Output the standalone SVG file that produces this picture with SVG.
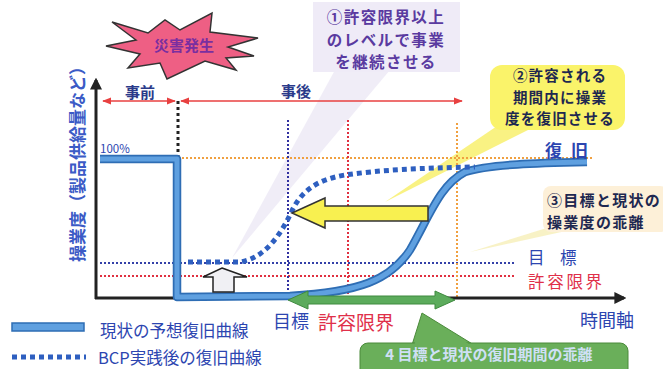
<svg xmlns="http://www.w3.org/2000/svg" width="663" height="369" viewBox="0 0 663 369">
<style>
.jp{font-family:"Noto Sans CJK JP","Noto Sans CJK SC",sans-serif;}
.blue{fill:#2c45b0;}
.red{fill:#e0304a;}
.navy{fill:#1e2850;}
.dotv{fill:none;stroke-width:2;stroke-dasharray:2 2;}
</style>
<defs>
<marker id="ra" viewBox="0 0 10 10" refX="9" refY="5" markerWidth="6" markerHeight="6" orient="auto-start-reverse"><path d="M0,1 L10,5 L0,9 z" fill="#e84040"/></marker>
<marker id="ka" viewBox="0 0 10 10" refX="8" refY="5" markerWidth="4" markerHeight="4" orient="auto"><path d="M0,0 L10,5 L0,10 z" fill="#222"/></marker>
</defs>
<rect width="663" height="369" fill="#ffffff"/>

<!-- callout pointers (background) -->
<g id="callout-wedges">
<polygon points="335,70 390,70 232,258" fill="#e4def0" opacity="0.55"/>
<polygon points="500,124 532,128 385,202" fill="#f7ee5a" opacity="0.75"/>
<polygon points="553,226 575,229 470,252" fill="#f3eaa0" opacity="0.6"/>
</g>

<!-- reference lines -->
<g id="guides">
<line x1="178" y1="158" x2="592" y2="158" class="dotv" stroke="#f0a040"/>
<line x1="100" y1="263" x2="515" y2="263" class="dotv" stroke="#3440a8"/>
<line x1="100" y1="276" x2="515" y2="276" class="dotv" stroke="#e03040"/>
<line x1="288" y1="120" x2="288" y2="297" class="dotv" stroke="#3030a0"/>
<line x1="348" y1="120" x2="348" y2="297" class="dotv" stroke="#e03040"/>
<line x1="457" y1="123" x2="457" y2="298" class="dotv" stroke="#f0a040"/>
<line x1="178" y1="101" x2="178" y2="160" stroke="#222" stroke-width="3" stroke-dasharray="3 3"/>
</g>

<!-- axes -->
<g id="axes">
<line x1="96" y1="299" x2="96" y2="80" stroke="#222" stroke-width="3" marker-end="url(#ka)"/>
<line x1="95" y1="298" x2="624" y2="298" stroke="#222" stroke-width="3" marker-end="url(#ka)"/>
</g>

<!-- connectors / curves -->
<g id="connectors">
<line x1="103" y1="101" x2="175" y2="101" stroke="#e84040" stroke-width="1.5" marker-start="url(#ra)" marker-end="url(#ra)"/>
<line x1="181" y1="101" x2="462" y2="101" stroke="#e84040" stroke-width="1.5" marker-start="url(#ra)" marker-end="url(#ra)"/>
<path d="M100,159 L177,159 L177,297 L290,296 C360,292 390,280 410,250 C430,215 440,185 465,172 C490,164 540,163 587,162" fill="none" stroke="#2e6db4" stroke-width="8.5" stroke-linejoin="round"/>
<path d="M100,159 L177,159 L177,297 L290,296 C360,292 390,280 410,250 C430,215 440,185 465,172 C490,164 540,163 587,162" fill="none" stroke="#5fa0e0" stroke-width="5" stroke-linejoin="round"/>
<path d="M188,262 L240,262 C265,258 280,235 290,215 C300,192 315,180 345,175 C380,170 420,168 475,167" fill="none" stroke="#2e5fc0" stroke-width="5" stroke-dasharray="5 4"/>
<polygon points="292,213 325,198 325,206 428,206 428,221 325,221 325,228" fill="#f8f050" stroke="#333" stroke-width="1.5"/>
<polygon points="222,268 247,277 234,277 234,292 213,292 213,277 203,277" fill="#f0f0f4" stroke="#222" stroke-width="1.5"/>
<polygon points="288,300 308,291 308,296 435,296 435,291 455,300 435,309 435,304 308,304 308,309" fill="#5cab5c" stroke="#3f8a3f" stroke-width="1"/>
</g>

<!-- disaster star -->
<g id="disaster">
<polygon points="112,22 148,33 165,20 180,30 212,13 210,32 258,38 228,47 254,56 226,58 236,70 205,61 167,79 160,63 128,68 140,54 106,46 136,40" fill="#ee5f84" stroke="#333" stroke-width="1.5"/>
<text x="184" y="51" text-anchor="middle" class="jp" font-size="15" font-weight="bold" fill="#7a2ea0">災害発生</text>
</g>

<g id="labels-top">
<text x="140" y="98" text-anchor="middle" class="jp" font-size="15" font-weight="bold" fill="#2a3a8a">事前</text>
<text x="296" y="97" text-anchor="middle" class="jp" font-size="15" font-weight="bold" fill="#2a3a8a">事後</text>
<text x="100" y="153" class="jp blue" font-size="11.5">100%</text>
</g>

<g id="ylabel">
<text transform="translate(84,160) rotate(-90)" text-anchor="middle" class="jp" font-size="17" font-weight="bold" fill="#3b5bc6">操業度（製品供給量など）</text>
</g>

<g id="callout1">
<rect x="313" y="2" width="147" height="70" fill="#efebf7"/>
<text class="jp" font-size="15.5" font-weight="bold" fill="#5a3aa0" text-anchor="middle" letter-spacing="1.4"><tspan x="386" y="23">①許容限界以上</tspan><tspan x="386" y="45.5">のレベルで事業</tspan><tspan x="386" y="68">を継続させる</tspan></text>
</g>

<g id="callout2">
<rect x="490" y="65" width="135" height="65" rx="12" fill="#faf36a"/>
<text class="jp navy" font-size="14.5" font-weight="bold" text-anchor="middle" letter-spacing="1.2"><tspan x="560" y="81">②許容される</tspan><tspan x="560" y="102.5">期間内に操業</tspan><tspan x="560" y="124">度を復旧させる</tspan></text>
</g>

<g id="callout3">
<rect x="543" y="186" width="125" height="46" rx="8" fill="#fdf0d8"/>
<text class="jp navy" font-size="15" font-weight="bold" letter-spacing="1.3"><tspan x="547" y="205.5">③目標と現状の</tspan><tspan x="547" y="227.5">操業度の乖離</tspan></text>
</g>

<g id="labels-right">
<text x="545 571" y="157" class="jp blue" font-size="17" font-weight="bold">復旧</text>
<text x="528 560" y="264" class="jp blue" font-size="16.5">目標</text>
<text x="528" y="288" class="jp red" font-size="16.5" letter-spacing="2.7">許容限界</text>
<text x="580" y="327" class="jp blue" font-size="18">時間軸</text>
</g>

<g id="labels-bottom">
<text x="273" y="328" class="jp blue" font-size="18">目標</text>
<text x="318" y="330" class="jp red" font-size="19">許容限界</text>
</g>

<g id="callout4">
<polygon points="422,313 412,345 474,345" fill="#6aaf5a" stroke="#4a8a3a" stroke-width="1"/>
<rect x="360" y="343" width="268" height="40" rx="8" fill="#6aaf5a" stroke="#4a8a3a" stroke-width="1"/>
<polygon points="423,316 414,346 472,346" fill="#6aaf5a"/>
<text x="489" y="360" text-anchor="middle" class="jp" font-size="15" font-weight="bold" fill="#cfe0f5">4 目標と現状の復旧期間の乖離</text>
</g>

<g id="legend">
<rect x="12" y="323" width="72" height="8" fill="#5fa0e0" stroke="#2e6db4" stroke-width="1.5"/>
<text x="100" y="337" class="jp blue" font-size="16.5">現状の予想復旧曲線</text>
<line x1="12" y1="357" x2="86" y2="357" stroke="#2e5fc0" stroke-width="5" stroke-dasharray="5 4"/>
<text x="98" y="364" class="jp blue" font-size="16.5">BCP実践後の復旧曲線</text>
</g>
</svg>
